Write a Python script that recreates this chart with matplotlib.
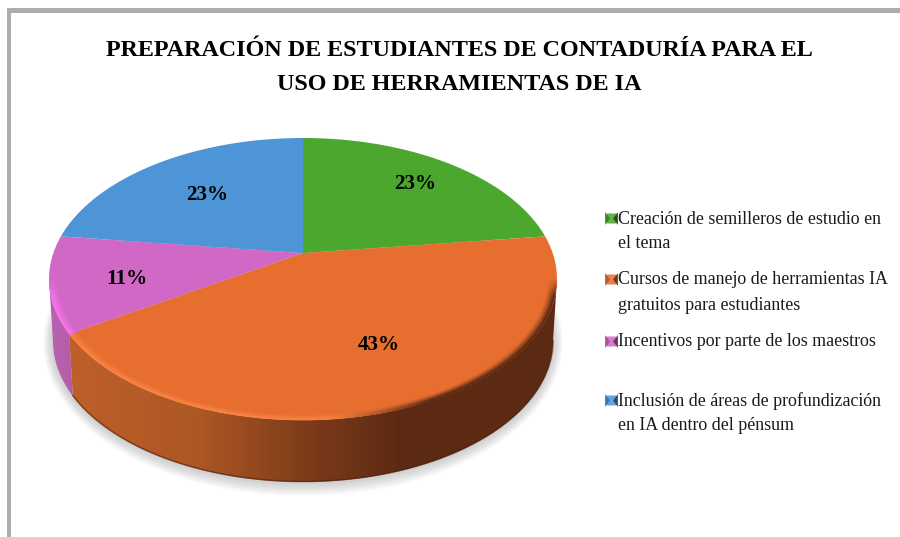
import numpy as np
import matplotlib
matplotlib.use("Agg")
import matplotlib.pyplot as plt
from matplotlib.colors import LinearSegmentedColormap, to_rgb
from matplotlib.collections import LineCollection
from matplotlib.patches import Ellipse, Polygon, Rectangle
from matplotlib.path import Path
from matplotlib.transforms import Affine2D, Transform

title_lines = ["PREPARACIÓN DE ESTUDIANTES DE CONTADURÍA PARA EL",
               "USO DE HERRAMIENTAS DE IA"]
categories = ["Creación de semilleros de estudio en\nel tema",
              "Cursos de manejo de herramientas IA\ngratuitos para estudiantes",
              "Incentivos por parte de los maestros",
              "Inclusión de áreas de profundización\nen IA dentro del pénsum"]
values = [23, 43, 11, 23]
colors = ["#4CA72F", "#E66F2F", "#D268C6", "#4E95D8"]
wall_stops = {1: [(0.0, "#BE6029"), (0.27, "#AC5724"), (0.48, "#7F3C1A"),
                  (0.68, "#5C2A13"), (1.0, "#5C2A13")],
              2: [(0.0, "#BC62B4"), (1.0, "#B55CA8")]}
label_pos = [(415, 184), (379, 345), (127, 279), (207, 195)]
legend_marker_y = [218, 279, 341, 400]
legend_first_line_y = [219, 280, 341, 401]

plt.rcParams["font.family"] = ["Liberation Serif", "DejaVu Serif"]
CX, CY, RX, RY, DEPTH, RXB, TILT = 303, 279, 254, 141, 62, 250, 0.184


class Perspective(Transform):
    """Projective map of the unit disk onto itself that moves the pivot upward."""
    input_dims = output_dims = 2
    is_affine = False
    has_inverse = False

    def transform_non_affine(self, xy):
        xy = np.asarray(xy, float)
        den = 1 + TILT * xy[:, 1]
        return np.column_stack([xy[:, 0] * np.sqrt(1 - TILT ** 2) / den,
                                (xy[:, 1] + TILT) / den])

    def transform_path_non_affine(self, path):
        polys = path.to_polygons(Affine2D().scale(800), closed_only=False)
        verts = np.vstack(polys) / 800
        return Path(self.transform_non_affine(verts))


fig = plt.figure(figsize=(9, 5.37), dpi=100, facecolor="white")
ax = fig.add_axes([0, 0, 1, 1])

wedges, _, pct = ax.pie(values, colors=colors, startangle=90, counterclock=False,
                        radius=1, autopct=lambda p: f"{p:.0f}%",
                        textprops=dict(fontsize=15.2, fontweight="bold", color="black"))
ax.set_aspect("auto")
ax.set_xlim(0, 900)
ax.set_ylim(537, 0)
ax.set_axis_off()
ax.set_frame_on(False)

persp = Perspective()
to_pixels = Affine2D().scale(RX, -RY).translate(CX, CY)
for w in wedges:
    w.set_transform(persp + to_pixels + ax.transData)
    w.set_zorder(5)
    w.set_linewidth(0)
for t, p in zip(pct, label_pos):
    t.set_position(p)
    t.set_zorder(8)
    t.set_va("center")
    t.set_ha("center")


def rim(w, n=400):
    a = np.radians(np.linspace(w.theta1, w.theta2, n))
    return persp.transform_non_affine(np.column_stack([np.cos(a), np.sin(a)]))


# soft shadow below the pie
for k in range(13, 0, -1):
    ax.add_patch(Ellipse((CX, CY + DEPTH + 1), 2 * (RXB + k * 0.75), 2 * (RY + k),
                         fc="#9a9a9a", ec="none", alpha=0.04, zorder=1))

# side walls
for i, stops in wall_stops.items():
    pts = rim(wedges[i])
    pts = pts[pts[:, 1] <= 0]
    upper = np.column_stack([CX + RX * pts[:, 0], CY - RY * pts[:, 1]])
    lower = np.column_stack([CX + RXB * pts[:, 0], CY + DEPTH - RY * pts[:, 1]])
    poly = Polygon(np.vstack([upper, lower[::-1]]), closed=True, fc="none", ec="none", zorder=2)
    ax.add_patch(poly)
    x0, x1 = min(upper[:, 0].min(), lower[:, 0].min()), max(upper[:, 0].max(), lower[:, 0].max())
    cmap = LinearSegmentedColormap.from_list("wall", stops)
    im = ax.imshow(np.linspace(0, 1, 512)[None, :], cmap=cmap, aspect="auto",
                   extent=(x0, x1, 500, 250), zorder=2, interpolation="bilinear")
    im.set_clip_path(poly)
    if i == 1:
        ax.plot(lower[:, 0], lower[:, 1] - 0.5, color="#4A210F", lw=1.2, alpha=0.55, zorder=3)
ax.set_aspect("auto")
ax.set_xlim(0, 900)
ax.set_ylim(537, 0)


# bevel along the front rim of the top face
def mix(a, b, k):
    return tuple((1 - k) * np.array(a) + k * np.array(b))


for i in (1, 2):
    pts = rim(wedges[i])
    pts = pts[pts[:, 1] <= -0.01]
    face = to_rgb(colors[i])
    for s, k in [(0.968, 0.12), (0.975, 0.3), (0.982, 0.55), (0.989, 0.8), (0.996, 1.0)]:
        xy = np.column_stack([CX + RX * s * pts[:, 0], CY - RY * s * pts[:, 1]])
        segs = np.stack([xy[:-1], xy[1:]], axis=1)
        cols = []
        for (x, _), py in zip(xy[:-1], pts[:-1, 1]):
            f = np.clip((x - 330) / 100, 0, 1)
            if i == 1:
                edge = mix(to_rgb("#F98242"), to_rgb("#5F2C14"), f)
            else:
                edge = to_rgb("#F472EC")
            fade = np.clip(-py / 0.12, 0, 1)
            cols.append(mix(face, edge, k * fade))
        ax.add_collection(LineCollection(segs, colors=cols, linewidths=1.3, zorder=6,
                                         capstyle="round"))

# frame
ax.add_patch(Rectangle((7, 8), 893, 4.6, fc="#ACACAC", ec="none", zorder=0))
ax.add_patch(Rectangle((7, 8), 3.8, 529, fc="#ACACAC", ec="none", zorder=0))

# title
for line, y in zip(title_lines, (50, 84)):
    ax.text(459.5, y, line, ha="center", va="center", fontsize=17.4, fontweight="bold", color="black")

# legend
left_tri = [(-1, -1), (-0.25, 0), (-1, 1)]
right_tri = [(1, -1), (0.25, 0), (1, 1)]
for c, my, ty, lab in zip(colors, legend_marker_y, legend_first_line_y, categories):
    dark = mix(to_rgb(c), (0, 0, 0), 0.5)
    light = mix(to_rgb(c), (1, 1, 1), 0.12)
    ax.plot([610.5], [my], marker="s", ms=6.6, mfc=light, mec="none", ls="none", zorder=6)
    ax.plot([610.5], [my], marker=left_tri, ms=9.2, mfc=mix(to_rgb(c), (0, 0, 0), 0.2),
            mec="none", ls="none", zorder=7)
    ax.plot([610.5], [my], marker=right_tri, ms=9.2, mfc=dark, mec="none", ls="none", zorder=7)
    for j, part in enumerate(lab.split("\n")):
        ax.text(618, ty + 25 * j, part, ha="left", va="center", fontsize=12.9, color="#1a1a1a")

fig.savefig("out.png", dpi=100, facecolor="white")
